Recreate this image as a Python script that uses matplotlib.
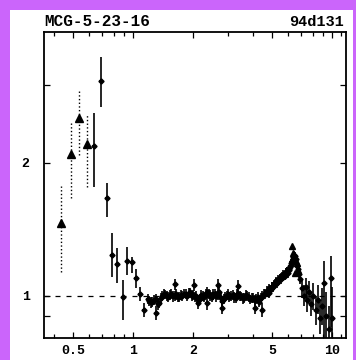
import matplotlib
matplotlib.use('Agg')
import matplotlib.pyplot as plt
from matplotlib.patches import Rectangle
from matplotlib.ticker import FixedLocator, FixedFormatter, NullFormatter

# soft points drawn as triangles with dotted error bars
tri_e = [0.434, 0.487, 0.538, 0.586]
tri_r = [1.465, 2.093, 2.532, 2.204]
tri_lo = [1.133, 1.666, 2.084, 1.765]
tri_hi = [1.774, 2.488, 2.940, 2.568]

# triangles on the iron line
fe_tri_e = [6.26, 6.37, 6.50, 6.63, 6.74]
fe_tri_r = [1.300, 1.250, 1.127, 1.190, 1.145]

# soft crosses
soft_e = [0.639, 0.691, 0.738, 0.782, 0.834, 0.888, 0.936, 0.985, 1.035, 1.084, 1.139, 1.185]
soft_r = [2.185, 3.070, 1.669, 1.238, 1.181, 0.995, 1.200, 1.194, 1.098, 1.010, 0.930, 0.984]
soft_lo = [1.765, 2.677, 1.509, 1.104, 1.070, 0.882, 1.116, 1.127, 1.043, 0.975, 0.895, 0.960]
soft_hi = [2.594, 3.473, 1.802, 1.388, 1.284, 1.087, 1.291, 1.225, 1.151, 1.045, 0.964, 1.010]

# flat continuum, two detectors
band1_e = [1.20, 1.25, 1.30, 1.35, 1.40, 1.45, 1.50, 1.56, 1.62, 1.68,
           1.74, 1.80, 1.87, 1.94, 2.01, 2.08, 2.16, 2.24, 2.32, 2.40,
           2.48, 2.57, 2.66, 2.75, 2.85, 2.95, 3.05, 3.16, 3.27, 3.38,
           3.50, 3.62, 3.75, 3.88, 4.02, 4.16, 4.30, 4.45, 4.60]
band1_r = [0.975, 0.970, 0.985, 0.965, 1.000, 1.008, 0.995, 1.010, 1.000, 0.992,
           1.005, 1.012, 0.998, 1.018, 1.006, 1.002, 0.985, 1.000, 1.012, 1.010,
           0.996, 1.012, 1.004, 0.990, 0.985, 1.002, 0.995, 1.004, 0.990, 1.008,
           0.998, 0.990, 1.000, 0.982, 0.990, 0.985, 0.968, 1.000, 1.010]
band2_e = [1.23, 1.28, 1.33, 1.38, 1.43, 1.48, 1.53, 1.59, 1.65, 1.71,
           1.77, 1.84, 1.91, 1.98, 2.05, 2.12, 2.20, 2.28, 2.36, 2.44,
           2.53, 2.62, 2.71, 2.80, 2.90, 3.00, 3.11, 3.22, 3.33, 3.44,
           3.56, 3.69, 3.82, 3.95, 4.09, 4.23, 4.38, 4.53, 4.68]
band2_r = [0.968, 0.980, 0.958, 0.990, 1.010, 1.000, 1.005, 0.998, 1.008, 0.995,
           1.000, 1.010, 1.015, 1.000, 0.995, 0.980, 1.005, 0.995, 1.018, 1.002,
           1.008, 0.998, 1.020, 0.975, 0.995, 1.010, 1.000, 0.992, 1.012, 1.000,
           0.988, 1.005, 0.995, 0.990, 0.978, 0.995, 0.990, 1.012, 1.025]

# scattered bins off the continuum
out_e = [1.31, 1.63, 2.03, 2.11, 2.34, 2.68, 2.79, 3.38, 4.09, 4.44]
out_r = [0.915, 1.062, 1.058, 0.966, 0.962, 1.058, 0.940, 1.052, 0.940, 0.930]

# rise into the iron line
rise1_e = [4.76, 4.84, 4.92, 5.00, 5.08, 5.16, 5.24, 5.32, 5.40, 5.48,
           5.56, 5.64, 5.72, 5.80, 5.88, 5.96, 6.04, 6.12, 6.20, 6.28,
           6.36, 6.44, 6.52, 6.60, 6.68, 6.76, 6.84, 6.92]
rise1_r = [1.025, 1.040, 1.035, 1.050, 1.058, 1.065, 1.072, 1.080, 1.085, 1.095,
           1.100, 1.105, 1.115, 1.120, 1.130, 1.138, 1.150, 1.160, 1.175, 1.200,
           1.225, 1.215, 1.200, 1.190, 1.170, 1.150, 1.120, 1.090]
rise2_e = [4.80, 4.88, 4.96, 5.04, 5.12, 5.20, 5.28, 5.36, 5.44, 5.52,
           5.60, 5.68, 5.76, 5.84, 5.92, 6.00, 6.08, 6.16, 6.24, 6.32,
           6.40, 6.48, 6.56]
rise2_r = [1.015, 1.030, 1.050, 1.045, 1.062, 1.075, 1.070, 1.088, 1.095, 1.090,
           1.108, 1.118, 1.112, 1.128, 1.135, 1.125, 1.145, 1.170, 1.185, 1.215,
           1.240, 1.230, 1.210]

# hard end, large errors
hard_e = [7.05, 7.20, 7.35, 7.50, 7.65, 7.85, 8.05, 8.25, 8.45, 8.65, 8.90, 9.05, 9.35, 9.60, 9.80, 9.95]
hard_r = [1.04, 1.00, 1.05, 0.98, 1.02, 0.96, 1.00, 0.93, 0.98, 0.89, 0.95, 1.07, 0.90, 0.84, 1.10, 0.89]
hard_lo = [0.99, 0.95, 0.99, 0.92, 0.96, 0.90, 0.93, 0.86, 0.91, 0.82, 0.86, 0.78, 0.80, 0.75, 0.85, 0.75]
hard_hi = [1.09, 1.06, 1.10, 1.04, 1.08, 1.02, 1.07, 1.00, 1.06, 0.97, 1.04, 1.20, 1.02, 0.95, 1.23, 1.05]

x_major = [0.5, 1, 2, 5, 10]
x_major_labels = ['0.5', '1', '2', '5', '10']
x_minor = [0.4, 0.6, 0.7, 0.8, 0.9, 3, 4, 6, 7, 8, 9, 11]
y_ticks = [0.9, 1, 2, 3]
y_labels = ['', '1', '2', '']

MONO = ['Liberation Mono', 'DejaVu Sans Mono']

fig = plt.figure(figsize=(3.56, 3.60), dpi=100)
fig.patch.set_facecolor('#cb65fb')
fig.patches.append(Rectangle((10 / 356, 0), 343 / 356, 350 / 360,
                             transform=fig.transFigure, facecolor='white',
                             edgecolor='none', zorder=-10))

ax = fig.add_axes([43.5 / 356, 22 / 360, 302.5 / 356, 306 / 360])
ax.set_xscale('log')
ax.set_yscale('log')
ax.set_xlim(0.3556, 11.72)
ax.set_ylim(0.803, 3.957)

ax.axhline(1.0, color='black', lw=0.9, dashes=(4, 4.8), zorder=1)


def err(vals, lo, hi):
    return [[v - l for v, l in zip(vals, lo)], [h - v for v, h in zip(vals, hi)]]


def xw(es, frac):
    return [e * frac for e in es]


# triangles with dotted bars
tri = ax.errorbar(tri_e, tri_r, yerr=err(tri_r, tri_lo, tri_hi), fmt='^',
                  color='black', ms=5.2, elinewidth=1.0, capsize=0, zorder=3)
tri[2][0].set_linestyle(':')
ax.plot(fe_tri_e, fe_tri_r, '^', color='black', ms=5, zorder=3)

kw = dict(fmt='D', color='black', ms=2.6, elinewidth=1.2, capsize=0, zorder=3)
ax.errorbar(soft_e, soft_r, yerr=err(soft_r, soft_lo, soft_hi), xerr=xw(soft_e, 0.02), **kw)
ax.errorbar(band1_e, band1_r, yerr=0.025, xerr=xw(band1_e, 0.013), **kw)
ax.errorbar(band2_e, band2_r, yerr=0.027, xerr=xw(band2_e, 0.013), **kw)
ax.errorbar(out_e, out_r, yerr=0.032, xerr=xw(out_e, 0.013), **kw)
ax.errorbar(rise1_e, rise1_r, yerr=0.025, xerr=xw(rise1_e, 0.011), **kw)
ax.errorbar(rise2_e, rise2_r, yerr=0.027, xerr=xw(rise2_e, 0.011), **kw)
ax.errorbar(hard_e, hard_r, yerr=err(hard_r, hard_lo, hard_hi), xerr=xw(hard_e, 0.01), **kw)

ax.xaxis.set_major_locator(FixedLocator(x_major))
ax.xaxis.set_major_formatter(FixedFormatter(x_major_labels))
ax.xaxis.set_minor_locator(FixedLocator(x_minor))
ax.xaxis.set_minor_formatter(NullFormatter())
ax.yaxis.set_major_locator(FixedLocator(y_ticks))
ax.yaxis.set_major_formatter(FixedFormatter(y_labels))
ax.yaxis.set_minor_locator(FixedLocator([]))

ax.tick_params(which='both', direction='in', top=True, right=True, width=0.9, color='black')
ax.tick_params(which='major', length=4)
ax.tick_params(which='minor', length=3)
ax.tick_params(axis='x', pad=5)
ax.tick_params(axis='y', pad=10)
for lab in ax.get_xticklabels() + ax.get_yticklabels():
    lab.set_family(MONO)
    lab.set_fontweight('bold')
    lab.set_fontsize(9.5)
for s in ax.spines.values():
    s.set_linewidth(1.3)

fig.text(44 / 356, 1 - 22 / 360, 'MCG-5-23-16', family=MONO, fontweight='bold',
         fontsize=11.5, ha='left', va='center')
fig.text(344 / 356, 1 - 22 / 360, '94d131', family=MONO, fontweight='bold',
         fontsize=11, ha='right', va='center')

fig.savefig('out.png', dpi=100, facecolor=fig.get_facecolor())
